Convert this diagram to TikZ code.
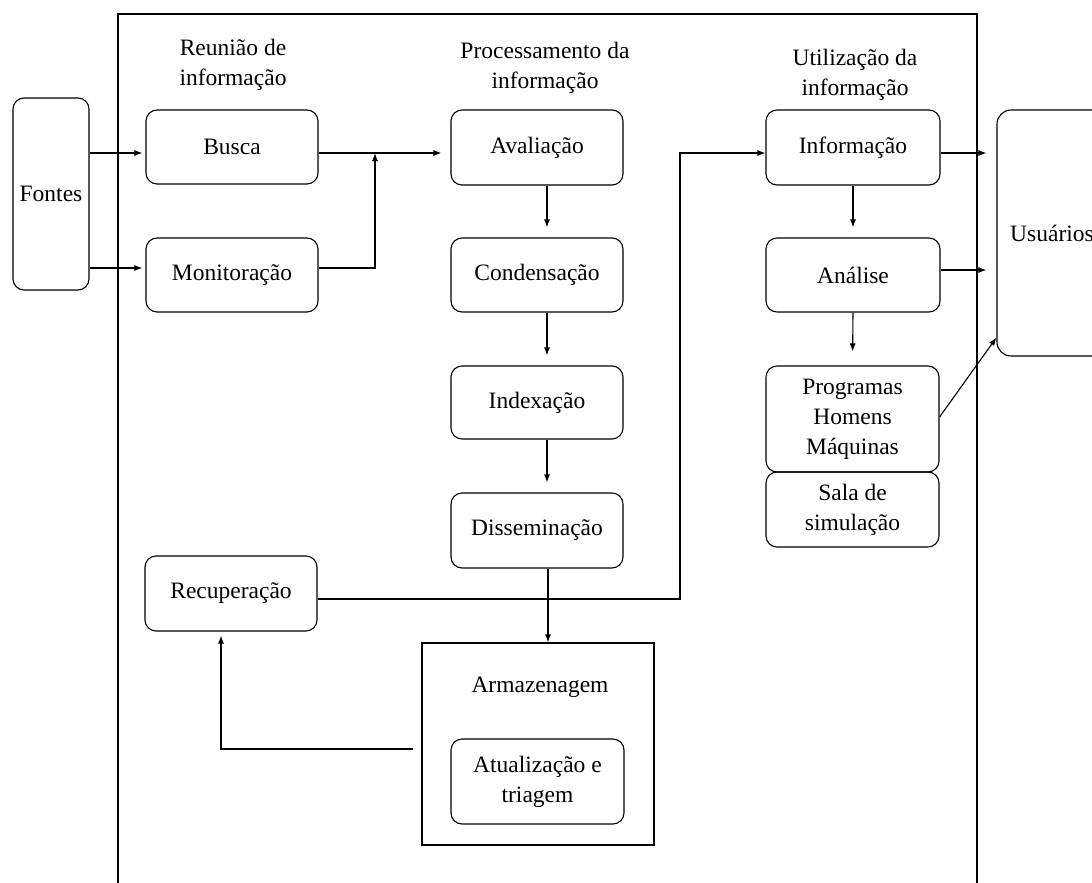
\documentclass[tikz,border=0pt]{standalone}
\usepackage{fontspec}
\setmainfont{Liberation Serif}
\usetikzlibrary{arrows.meta,calc}
\begin{document}
\begin{tikzpicture}[x=1pt,y=-1pt,line width=1.1pt,
  font=\fontsize{23.5}{30}\selectfont,
  rbox/.style={draw,rounded corners=11pt,inner sep=0pt,align=center,minimum width=172pt,minimum height=75pt},
  sbox/.style={draw,inner sep=0pt},
  lbl/.style={inner sep=0pt,align=center},
  arr/.style={-{Latex[length=8pt,width=6pt]}}]
\useasboundingbox (0,0) rectangle (1092,883);
\clip (0,0) rectangle (1092,883);
\fill[white] (0,0) rectangle (1092,883);
\draw (118,895) -- (118,14) -- (977,14) -- (977,895);

% headers
\node[lbl] (h1) at (233,65) {Reunião de\\informação};
\node[lbl] (h2) at (545,67.5) {Processamento da\\informação};
\node[lbl] (h3) at (855,74.5) {Utilização da\\informação};

% boxes
\node[rbox,minimum width=76pt,minimum height=192pt] (fon) at (51,194) {Fontes};
\node[rbox,minimum height=74pt] (bus) at (232,147) {Busca};
\node[rbox,minimum height=74pt] (mon) at (232,275) {Monitoração};
\node[rbox] (ava) at (537,147.5) {Avaliação};
\node[rbox,minimum height=74pt] (con) at (537,275) {Condensação};
\node[rbox,minimum height=73pt] (ind) at (537,402.5) {Indexação};
\node[rbox] (dis) at (537,530.5) {Disseminação};
\node[rbox,minimum width=174pt] (inf) at (853,147.5) {Informação};
\node[rbox,minimum width=174pt,minimum height=74pt] (ana) at (853,275) {Análise};
\node[rbox,minimum width=173pt,minimum height=106pt] (pro) at (852.5,419) {Programas\\Homens\\Máquinas};
\node[rbox,minimum width=173pt] (sal) at (852.5,509.5) {Sala de\\simulação};
\node[rbox,minimum width=110pt,minimum height=246pt,rounded corners=14pt] (usu) at (1052,233) {Usuários};
\node[rbox] (rec) at (231,593.5) {Recuperação};
\node[sbox,minimum width=232pt,minimum height=202pt] (arm) at (538,744) {};
\node[lbl] (armt) at (540,687) {Armazenagem};
\node[rbox,minimum width=173pt,minimum height=85pt] (atu) at (537.5,781.5) {Atualização e\\triagem};

% connectors
\coordinate (b1) at ([yshift=-6pt]bus.west);
\draw[arr,shorten >=3pt] (fon.east |- b1) -- (b1);
\coordinate (m1) at ([yshift=7pt]mon.west);
\draw[arr,shorten >=3pt] (fon.east |- m1) -- (m1);
\coordinate (j1) at (375,153);
\draw[arr,shorten >=9pt] ([yshift=-6pt]bus.east) -- ([yshift=-5.5pt]ava.west);
\draw[arr] ([yshift=7pt]mon.east) -| (j1);

\draw[arr,shorten >=10pt] ([xshift=10pt]ava.south) -- ([xshift=10pt]con.north);
\draw[arr,shorten >=10pt] ([xshift=10pt]con.south) -- ([xshift=10pt]ind.north);
\draw[arr,shorten >=10pt] ([xshift=10pt]ind.south) -- ([xshift=10pt]dis.north);
\draw[arr] ([xshift=11pt]dis.south) -- ([xshift=11pt]dis.south |- arm.north);

\coordinate (t1) at (680,599);
\draw[arr] ([yshift=-5.5pt]rec.east) -- (t1) |- ([yshift=-5.5pt]inf.west);
\coordinate (a1) at (413,749);
\draw[arr,shorten >=4pt] (a1) -| ([xshift=-10pt]rec.south);

\draw[arr,shorten >=10pt] (inf.south) -- (ana.north);
\draw[arr,shorten >=14pt] (ana.south) -- (pro.north);
\draw[arr,shorten >=10pt] ([yshift=-5.5pt]inf.east) -- ([yshift=-5.5pt]inf.east -| usu.west);
\draw[arr,shorten >=10pt] ([yshift=5pt]ana.east) -- ([yshift=5pt]ana.east -| usu.west);
\draw[arr] ([yshift=2pt]pro.east) -- ([yshift=19pt]usu.south west);
\end{tikzpicture}
\end{document}
